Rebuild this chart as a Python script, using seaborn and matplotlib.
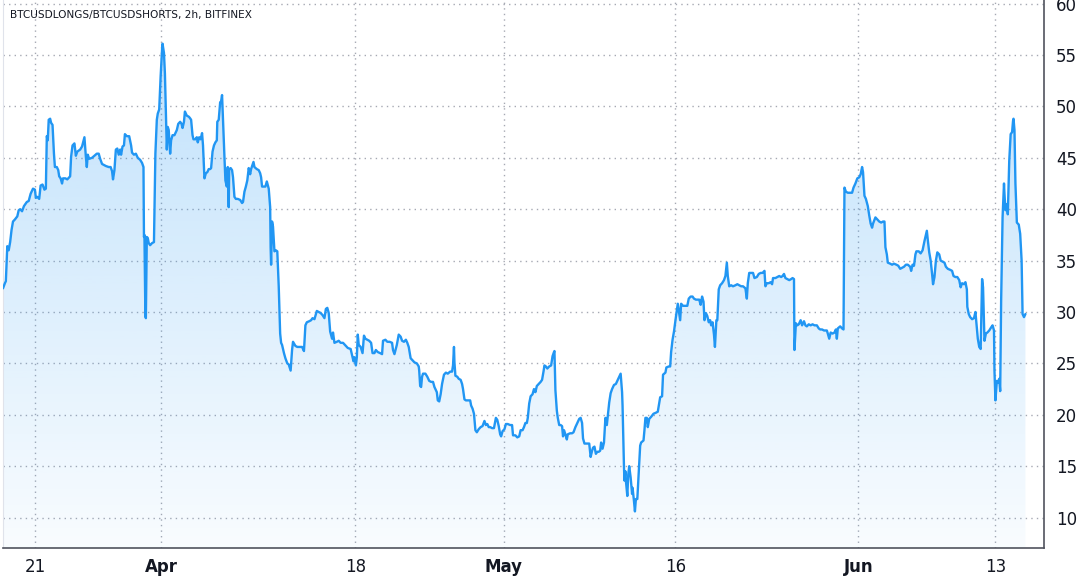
import numpy as np
import pandas as pd
import seaborn as sns
import matplotlib
matplotlib.use("Agg")
from matplotlib import pyplot as plt
import matplotlib.dates as mdates

# 2h candles, hours counted from 2021-03-18 00:00
start = "2021-03-18 00:00"
hours = [
    4, 8, 10, 13, 16, 19, 22, 25, 29, 34, 37, 40, 44, 48, 54, 58, 62, 67, 71, 73,
    76, 80, 83, 87, 91, 94, 96, 98, 100, 103, 105, 108, 111, 113, 117, 120, 122, 125, 128, 130,
    135, 139, 145, 147, 150, 154, 157, 160, 166, 170, 175, 178, 180, 182, 185, 191, 196, 201, 205, 208,
    212, 216, 220, 226, 230, 233, 235, 238, 241, 244, 247, 250, 252, 255, 258, 260, 264, 269, 273, 275,
    279, 283, 287, 292, 296, 299, 300, 301, 303, 304, 306, 308, 310, 313, 317, 321, 324, 327, 329, 332,
    335, 338, 339, 342, 344, 346, 348, 350, 352, 355, 357, 360, 364,
    369, 372, 376, 379, 381, 384, 386, 390, 394, 396, 399, 402, 404, 408, 411, 413, 416, 419, 422, 424,
    427, 430, 433, 436, 439, 441, 444, 447, 450, 453, 454, 457, 460, 462, 464, 466, 469, 471, 474, 476,
    478, 479, 482, 485, 487, 490, 493, 497, 502, 506, 508, 511, 514, 517, 520, 523, 525, 530, 532, 537,
    541, 544, 546, 548, 550, 555, 558, 562, 565, 566, 567, 569, 571, 574, 577, 580, 583, 586, 588, 590,
    594, 597, 601, 604, 608, 611, 613, 618, 622, 628, 632, 636, 639, 642, 647, 651, 654, 658, 663, 667,
    671, 675, 679, 682, 685, 688, 691, 695, 697, 700, 705, 709, 713,
    718, 724, 728, 734, 737, 740, 742, 745, 747, 749, 751, 755, 759, 762, 765, 769, 773, 777, 780, 784,
    787, 791, 796, 800, 802, 807, 811, 816, 821, 823, 826, 831, 835, 839, 842, 846, 850, 853, 856, 860,
    864, 868, 873, 877, 878, 880, 882, 884, 886, 891, 895, 899, 903, 907, 910, 915, 917, 920, 923, 926,
    930, 934, 938, 943, 947, 949, 951, 952, 954, 958, 961, 965, 968, 970, 973, 976, 980, 985, 987, 990,
    993, 996, 999, 1003, 1007, 1011, 1015, 1018, 1021, 1024, 1027, 1031, 1035, 1039, 1042, 1045, 1048, 1050, 1053, 1057,
    1060, 1064,
    1069, 1073, 1075, 1080, 1084, 1088, 1091, 1095, 1098, 1101, 1104, 1106, 1109, 1112, 1116, 1119, 1122, 1125, 1129, 1133,
    1136, 1139, 1141, 1144, 1147, 1151, 1155, 1158, 1161, 1162, 1164, 1167, 1169, 1172, 1175, 1178, 1180, 1182, 1185, 1188,
    1190, 1195, 1199, 1202, 1206, 1210, 1214, 1217, 1220, 1222, 1225, 1230, 1235, 1238, 1241, 1243, 1246, 1249, 1252, 1255,
    1258, 1260, 1263, 1266, 1269, 1272, 1274, 1277, 1280, 1283, 1287, 1291, 1295, 1300, 1301, 1304, 1305, 1308, 1309, 1311,
    1312, 1315, 1317, 1319, 1322, 1325, 1326, 1329, 1331, 1333, 1336, 1339, 1342, 1344, 1349, 1351, 1353, 1356, 1358, 1361,
    1365, 1370, 1375, 1379, 1384, 1388, 1390, 1395, 1397, 1402, 1405, 1407, 1410, 1413, 1417, 1421,
    1426, 1428, 1432, 1437, 1441, 1444, 1448, 1452, 1455, 1459, 1463, 1466, 1469, 1472, 1475, 1477, 1480, 1483, 1486, 1489,
    1491, 1494, 1497, 1499, 1502, 1504, 1507, 1510, 1514, 1518, 1521, 1524, 1526, 1529, 1533, 1537, 1542, 1546, 1550, 1554,
    1558, 1563, 1566, 1568, 1571, 1575, 1579, 1582, 1587, 1591, 1595, 1599, 1603, 1605, 1608, 1612, 1616, 1619, 1621, 1626,
    1630, 1634, 1638, 1641, 1644, 1647, 1651, 1655, 1659, 1662, 1665, 1666, 1669, 1672, 1675, 1679, 1682, 1686, 1689, 1692,
    1696, 1700, 1704, 1708, 1713, 1717, 1720, 1724, 1728, 1734, 1736, 1739, 1742, 1746, 1750, 1753, 1755, 1757, 1762, 1766,
    1769, 1771, 1774, 1778, 1783, 1787, 1790, 1794,
    1798, 1802, 1805, 1808, 1810, 1813, 1816, 1820, 1823, 1826, 1829, 1831, 1836, 1840, 1844, 1848, 1852, 1855, 1857, 1860,
    1862, 1867, 1871, 1875, 1880, 1884, 1888, 1892, 1896, 1900, 1904, 1909, 1911, 1914, 1917, 1920, 1922, 1927, 1931, 1935,
    1939, 1944, 1946, 1949, 1952, 1955, 1957, 1960, 1963, 1966, 1970, 1973, 1977, 1981, 1984, 1988, 1993, 1997, 2000, 2004,
    2008, 2012, 2015, 2018, 2022, 2025, 2028, 2029, 2032, 2035, 2039, 2043, 2046, 2049, 2051, 2054, 2057, 2060, 2062, 2065,
    2068, 2071, 2075, 2079, 2082, 2085, 2086, 2088, 2091, 2093, 2096, 2098, 2100, 2103, 2106, 2107, 2109, 2112, 2114, 2117,
    2120, 2123, 2125, 2126, 2128, 2130, 2133, 2137, 2140, 2143, 2145, 2148, 2151,
]
ratio = [
    32.3, 32.8, 33.0, 36.4, 36.0, 36.8, 38.0, 38.8, 39.0, 39.3, 39.9, 40.0, 39.8, 40.3, 40.7, 40.8, 41.5, 42.0, 41.9, 41.1,
    41.2, 41.0, 42.3, 42.4, 41.9, 42.0, 47.1, 46.7, 48.7, 48.8, 48.4, 48.2, 45.4, 44.1, 44.1, 43.8, 43.2, 43.0, 42.5, 43.0,
    43.0, 42.9, 43.2, 45.1, 46.2, 46.4, 45.2, 45.6, 45.8, 46.1, 47.0, 45.1, 44.1, 45.3, 44.9, 45.0, 45.2, 45.4, 45.4, 44.9,
    44.4, 44.3, 44.2, 44.1, 44.1, 43.7, 42.9, 43.8, 45.8, 45.9, 45.3, 45.8, 45.3, 46.1, 46.2, 47.3, 47.1, 47.1, 46.2, 45.5,
    45.3, 45.4, 45.0, 44.8, 44.5, 44.1, 37.3, 37.5, 29.6, 29.4, 37.3, 37.2, 36.7, 36.5, 36.7, 36.8, 45.4, 48.7, 49.3, 49.7,
    52.9, 55.5, 56.1, 55.2, 53.2, 49.7, 45.8, 48.0, 47.7, 45.4, 46.7, 47.2, 47.2,
    47.7, 48.3, 48.5, 48.3, 47.9, 48.5, 49.5, 49.1, 49.0, 48.9, 48.7, 47.2, 46.8, 46.8, 47.0, 46.5, 47.0, 46.8, 47.4, 46.2,
    43.0, 43.5, 43.6, 43.9, 43.9, 44.0, 45.6, 46.2, 46.5, 46.7, 48.5, 48.7, 50.4, 50.5, 51.1, 48.6, 45.1, 42.8, 42.2, 44.1,
    40.2, 43.9, 44.0, 43.8, 43.1, 41.2, 41.0, 41.0, 40.9, 40.6, 40.7, 41.7, 42.2, 42.8, 44.0, 43.4, 43.9, 44.6, 44.1, 43.9,
    43.8, 43.5, 43.1, 42.2, 42.2, 42.2, 42.7, 42.0, 40.2, 36.3, 34.6, 38.8, 38.3, 35.9, 36.0, 35.9, 32.5, 27.9, 27.0, 26.8,
    26.0, 25.5, 25.0, 24.9, 24.3, 26.3, 27.1, 26.7, 26.6, 26.6, 26.6, 26.2, 28.7, 29.0, 29.1, 29.2, 29.4, 29.3, 30.1, 30.0,
    29.9, 29.7, 29.4, 30.3, 30.4, 29.9, 28.1, 27.4, 28.0, 27.0, 27.1, 27.2, 27.0,
    27.0, 26.7, 26.5, 26.4, 25.8, 25.2, 25.6, 24.8, 25.6, 27.8, 26.8, 26.6, 26.0, 27.7, 27.4, 27.3, 27.2, 27.0, 26.0, 26.0,
    26.3, 26.1, 26.0, 25.9, 27.2, 27.3, 27.1, 27.1, 27.0, 26.3, 25.9, 26.8, 27.8, 27.6, 27.2, 27.1, 27.3, 27.0, 26.6, 25.5,
    25.3, 25.1, 25.0, 24.7, 24.3, 22.8, 22.7, 23.7, 24.0, 24.0, 23.7, 23.3, 23.2, 23.2, 22.7, 22.2, 21.4, 21.3, 22.0, 23.0,
    23.9, 24.1, 24.0, 24.2, 24.2, 24.8, 26.6, 25.1, 23.8, 23.7, 23.5, 23.4, 23.0, 22.5, 21.5, 21.4, 21.4, 21.4, 20.9, 20.6,
    20.1, 18.5, 18.3, 18.6, 18.8, 18.9, 19.4, 19.0, 19.1, 18.8, 18.8, 18.7, 18.7, 19.7, 19.5, 18.9, 18.1, 17.9, 18.4, 18.6,
    19.1, 19.1,
    19.0, 19.0, 18.0, 18.0, 17.8, 17.9, 18.5, 18.5, 18.8, 19.2, 19.2, 19.7, 21.1, 21.8, 22.0, 22.5, 22.2, 22.8, 23.0, 23.2,
    23.4, 24.2, 24.8, 24.7, 24.5, 24.7, 24.8, 25.7, 26.1, 26.2, 22.4, 20.4, 19.7, 19.0, 19.0, 18.9, 17.9, 18.5, 18.1, 17.6,
    18.1, 18.2, 18.2, 18.3, 18.8, 19.2, 19.6, 19.7, 19.2, 17.7, 17.2, 17.2, 17.2, 15.9, 16.5, 16.8, 16.9, 16.2, 16.4, 16.4,
    16.5, 17.3, 16.7, 17.3, 19.7, 19.0, 19.9, 21.2, 22.1, 22.5, 22.9, 23.0, 23.4, 23.9, 24.0, 22.2, 20.9, 14.9, 13.6, 14.5,
    13.6, 12.1, 14.2, 15.0, 13.9, 12.3, 12.9, 11.6, 10.6, 11.8, 11.8, 14.5, 17.0, 17.3, 17.5, 18.5, 19.7, 19.7, 18.8, 19.6,
    19.8, 20.1, 20.2, 20.3, 21.7, 21.8, 23.9, 24.1, 24.6, 24.7, 24.7, 26.1, 27.3, 28.1, 29.5, 30.8,
    29.2, 30.8, 30.6, 30.6, 30.6, 31.3, 31.5, 31.5, 31.3, 31.2, 31.2, 31.2, 30.7, 31.5, 31.0, 29.2, 29.9, 29.6, 29.0, 29.2,
    28.7, 29.0, 27.8, 26.6, 29.2, 29.2, 32.2, 32.6, 32.8, 33.1, 33.5, 34.8, 33.5, 32.5, 32.6, 32.5, 32.6, 32.7, 32.6, 32.5,
    32.5, 32.3, 31.3, 32.8, 33.8, 33.8, 33.8, 33.3, 33.4, 33.7, 33.8, 33.8, 34.0, 32.5, 32.8, 32.8, 32.9, 32.7, 33.3, 33.3,
    33.4, 33.5, 33.4, 33.5, 33.7, 33.3, 33.2, 33.1, 33.2, 33.3, 33.2, 26.3, 28.9, 28.7, 28.8, 29.2, 28.7, 29.1, 28.7, 28.6,
    28.8, 28.7, 28.8, 28.7, 28.7, 28.4, 28.3, 28.3, 28.2, 28.2, 27.9, 27.4, 28.0, 27.9, 28.0, 28.3, 27.4, 28.4, 28.6, 28.4,
    28.3, 42.1, 41.7, 41.6, 41.6, 41.6, 42.1, 42.5,
    43.0, 43.1, 43.4, 44.1, 43.6, 41.3, 41.0, 40.3, 39.4, 38.6, 38.2, 38.6, 39.2, 39.0, 38.8, 38.7, 38.8, 38.8, 36.3, 35.6,
    34.8, 34.7, 34.6, 34.7, 34.6, 34.5, 34.2, 34.3, 34.4, 34.6, 34.6, 34.4, 34.0, 34.6, 34.5, 35.6, 35.9, 35.9, 35.7, 36.0,
    36.9, 37.9, 37.0, 35.8, 35.0, 33.7, 32.7, 33.4, 35.0, 35.8, 35.6, 35.0, 34.9, 34.8, 34.4, 34.2, 34.1, 34.0, 33.5, 33.4,
    33.4, 33.1, 32.4, 32.8, 32.7, 32.9, 32.2, 30.5, 29.8, 29.5, 29.3, 29.4, 30.0, 28.5, 27.4, 26.6, 26.4, 33.2, 32.4, 27.2,
    27.9, 28.0, 28.2, 28.5, 28.7, 28.2, 24.3, 21.4, 23.3, 23.1, 23.5, 22.3, 31.1, 39.2, 42.5, 41.5, 39.9, 40.5, 39.5, 44.7,
    47.3, 47.5, 48.6, 48.8, 47.7, 42.5, 38.7, 38.5, 37.6, 35.0, 29.8, 29.5, 29.8,
]

tick_dates = ["2021-03-21", "2021-04-01", "2021-04-18", "2021-05-01",
              "2021-05-16", "2021-06-01", "2021-06-13"]
tick_labels = ["21", "Apr", "18", "May", "16", "Jun", "13"]
month_labels = ["Apr", "May", "Jun"]
y_ticks = [10, 15, 20, 25, 30, 35, 40, 45, 50, 55, 60]
title = "BTCUSDLONGS/BTCUSDSHORTS, 2h, BITFINEX"

df = pd.DataFrame({
    "time": pd.Timestamp(start) + pd.to_timedelta(hours, unit="h"),
    "ratio": ratio,
})

sns.set_style("white")
plt.rcParams["font.family"] = ["DejaVu Sans"]

line_color = "#2196f3"
text_color = "#131722"
grid_color = "#a6a9b3"

fig = plt.figure(figsize=(10.86, 5.8), dpi=100)
fig.patch.set_facecolor("white")
ax = fig.add_axes([3 / 1086, 1 - 548 / 580, (1044 - 3) / 1086, 548 / 580])

y_lo, y_hi = 7.04, 60.35
x_lo = pd.Timestamp(start) + pd.Timedelta(hours=4)
x_hi = pd.Timestamp(start) + pd.Timedelta(hours=2190)

# gradient area under the line, clipped to the fill polygon
poly = ax.fill_between(df["time"], df["ratio"], y_lo, color="none", lw=0)
clip = poly.get_paths()[0]
n = 256
grad = np.zeros((n, 1, 4))
grad[:, 0, 0] = 33 / 255
grad[:, 0, 1] = 150 / 255
grad[:, 0, 2] = 243 / 255
grad[:, 0, 3] = np.linspace(0.03, 0.28, n)
top = max(ratio)
im = ax.imshow(grad, aspect="auto", origin="lower", zorder=1,
               extent=[mdates.date2num(x_lo), mdates.date2num(x_hi), y_lo, top])
im.set_clip_path(clip, transform=ax.transData)

sns.lineplot(data=df, x="time", y="ratio", color=line_color, linewidth=1.7,
             ax=ax, zorder=3)

ax.set_xlim(x_lo, x_hi)
ax.set_ylim(y_lo, y_hi)
ax.set_xlabel("")
ax.set_ylabel("")

ax.set_xticks(pd.to_datetime(tick_dates))
ax.set_xticklabels(tick_labels)
for lab in ax.get_xticklabels():
    if lab.get_text() in month_labels:
        lab.set_fontweight("bold")
ax.set_yticks(y_ticks)
ax.set_yticklabels([str(v) for v in y_ticks])
ax.yaxis.tick_right()
ax.tick_params(axis="both", length=0, labelsize=12, colors=text_color)
ax.tick_params(axis="x", pad=7)
ax.tick_params(axis="y", pad=8.5)

ax.grid(True, color=grid_color, linestyle=(0, (1, 3)), linewidth=1)
ax.set_axisbelow(True)

ax.spines["top"].set_visible(False)
ax.spines["left"].set_color("#e0e3eb")
ax.spines["bottom"].set_color("#50535e")
ax.spines["right"].set_color("#50535e")
ax.spines["bottom"].set_linewidth(1.2)
ax.spines["right"].set_linewidth(1.2)

fig.text(10 / 1086, 1 - 15 / 580, title, fontsize=7.6, color=text_color,
         va="center", ha="left")

fig.savefig("out.png", dpi=100)
